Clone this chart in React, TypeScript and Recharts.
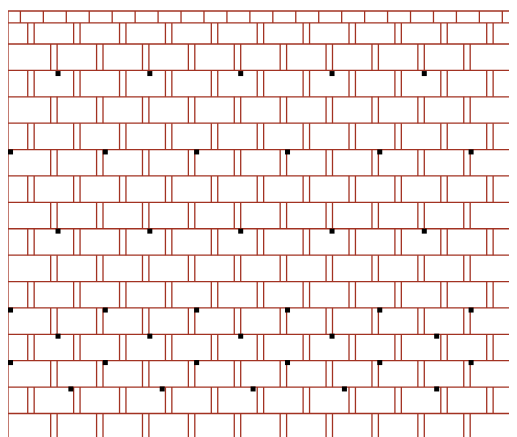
import { ComposedChart, XAxis, YAxis, ReferenceLine, Scatter } from 'recharts'

// horizontal courses (y in row units, top of plot = -1.25)
const courseLevels = [-1.25, -0.8, 0, 1, 2, 3, 4, 5, 6, 7, 8, 9, 10, 11, 12, 13, 14]
// band edges for the brick rows below the thin top strip
const bandEdges = [-0.8, 0, 1, 2, 3, 4, 5, 6, 7, 8, 9, 10, 11, 12, 13, 14, 14.89]
const topStrip = [-1.25, -0.8]

// joint positions (x in brick units)
const jointsTop = [0.27, 0.77, 1.27, 1.77, 2.27, 2.77, 3.27, 3.77, 4.27, 4.77, 5.27, 5.77, 6.27, 6.77, 7.27, 7.77, 8.27, 8.77, 9.27, 9.77, 10.27, 10.77]
const jointsA = [0.5, 1.5, 2.5, 3.5, 4.5, 5.5, 6.5, 7.5, 8.5, 9.5, 10.5]
const jointsB = [1, 2, 3, 4, 5, 6, 7, 8, 9, 10, 11]
const rightEdge = 11.09

// black markers
const markerY = [1.12, 4.09, 7.09, 10.08, 11.07, 12.07, 13.07]
const markerX = [
  [1.09, 3.09, 5.07, 7.06, 9.07],
  [0.055, 2.12, 4.11, 6.09, 8.1, 10.09],
  [1.09, 3.09, 5.07, 7.06, 9.07],
  [0.055, 2.12, 4.11, 6.09, 8.1, 10.09],
  [1.09, 3.09, 5.07, 7.06, 9.34],
  [0.055, 2.12, 4.11, 6.09, 8.1, 10.09],
  [1.37, 3.36, 5.34, 7.33, 9.34],
]

const LINE = '#a23222'
const GAP = 0.07

const markers = markerY.flatMap((y, i) => markerX[i].map((x) => ({ x, y })))

const Square = (props: any) => {
  const { cx, cy } = props
  return <rect x={cx - 2.5} y={cy - 2.5} width={5} height={5} fill="#000" />
}

export default function App() {
  const segs: { x: number; y0: number; y1: number }[] = []
  jointsTop.forEach((x) => segs.push({ x, y0: topStrip[0], y1: topStrip[1] }))
  segs.push({ x: rightEdge, y0: topStrip[0], y1: topStrip[1] })
  for (let i = 0; i < bandEdges.length - 1; i++) {
    const y0 = bandEdges[i]
    const y1 = bandEdges[i + 1]
    const joints = i % 2 === 0 ? jointsA : jointsB
    joints.forEach((x) => {
      segs.push({ x: x - GAP, y0, y1 })
      segs.push({ x: x + GAP, y0, y1 })
    })
    if (i % 2 === 0) segs.push({ x: rightEdge, y0, y1 })
  }

  return (
    <ComposedChart width={509} height={429} margin={{ top: 3, right: 0, left: 0, bottom: 0 }}>
      <XAxis type="number" dataKey="x" domain={[0, rightEdge]} hide allowDataOverflow />
      <YAxis type="number" dataKey="y" domain={[-1.25, 14.89]} reversed hide allowDataOverflow />
      {courseLevels.map((y) => (
        <ReferenceLine key={'h' + y} y={y} stroke={LINE} strokeWidth={1.3} />
      ))}
      <ReferenceLine x={0} stroke={LINE} strokeWidth={1.3} />
      {segs.map((s, i) => (
        <ReferenceLine
          key={'v' + i}
          segment={[{ x: s.x, y: s.y0 }, { x: s.x, y: s.y1 }]}
          stroke={LINE}
          strokeWidth={1.3}
          ifOverflow="visible"
        />
      ))}
      <Scatter data={markers} shape={<Square />} isAnimationActive={false} />
    </ComposedChart>
  )
}
